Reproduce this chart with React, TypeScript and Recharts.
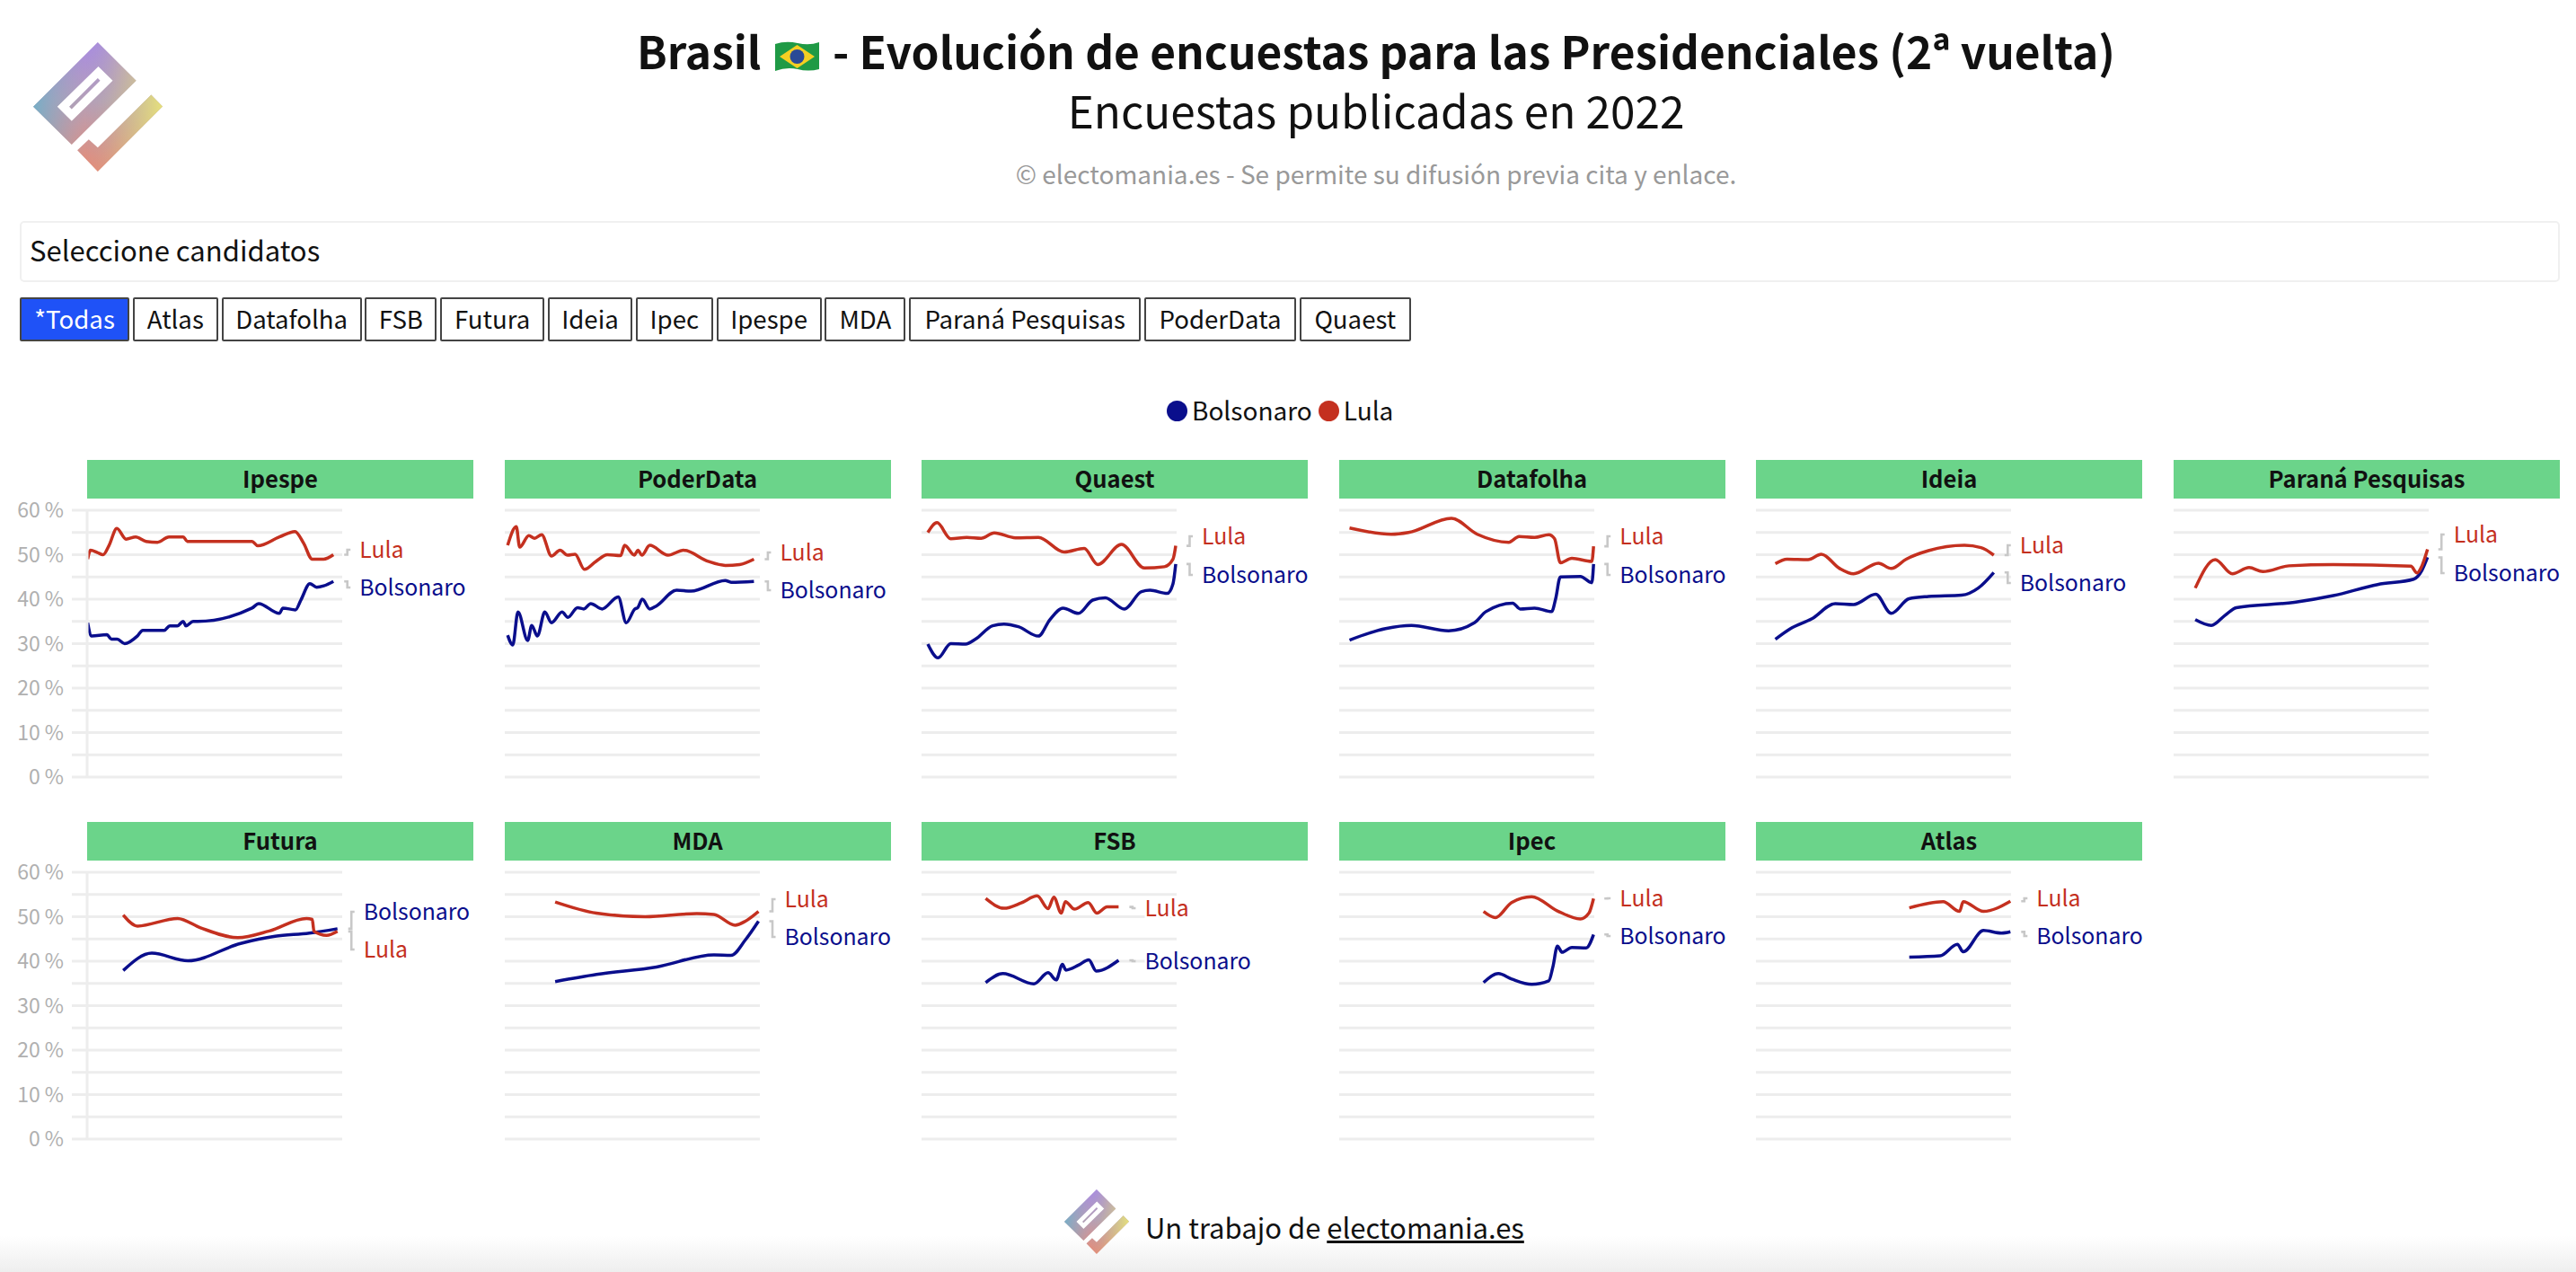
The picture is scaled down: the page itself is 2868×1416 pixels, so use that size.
import { LineChart, Line, XAxis, YAxis, CartesianGrid } from "recharts";

const FONT = '"Noto Sans CJK JP", "Noto Sans", sans-serif';
const LULA_COLOR = "#c4301f";
const BOLSONARO_COLOR = "#0a0e8c";
const GRID_COLOR = "#ededed";

const filterButtons = ["*Todas", "Atlas", "Datafolha", "FSB", "Futura", "Ideia", "Ipec", "Ipespe", "MDA", "Paraná Pesquisas", "PoderData", "Quaest"];
const buttonWidths = [122, 95, 156, 80, 116, 94, 86, 117, 90, 258, 169, 124];
const yTicks = [0, 5, 10, 15, 20, 25, 30, 35, 40, 45, 50, 55, 60];

// x = posición aproximada en la línea de tiempo
const ipespeLulaX = [0.6, 3.8, 11.4, 17.8, 24.2, 33.1, 43.3, 54.1, 65.6, 78.4, 91.1, 107, 111.5, 183.6, 190, 214.2, 231.4, 241, 250.6, 263.3, 274.2];
const ipespeLula = [49, 51, 50.5, 50, 52, 55.9, 53.5, 54, 53, 52.8, 54, 54, 53, 53, 52, 54, 55.2, 52.6, 49, 49, 50];
const ipespeBolsonaroX = [0.6, 5, 22, 27, 33.5, 41.8, 55.8, 62, 86, 92, 100.4, 107, 110, 118, 123, 183.6, 191, 214, 218, 232, 238, 248, 255.5, 263.5, 274.2];
const ipespeBolsonaro = [34.7, 31.7, 32, 31, 31, 30, 31.7, 33, 33, 34, 34, 35, 34, 35, 35, 38, 39, 36.8, 38, 37.6, 39.8, 43.5, 42.7, 43, 44];

const poderLulaX = [3.2, 12.8, 16.6, 26.8, 33.2, 41.1, 52, 61.5, 69.9, 78.2, 88.7, 101.5, 114.3, 129, 133.4, 144.3, 148.2, 152.6, 161.4, 181.8, 199, 226.4, 245.5, 261.5, 277.4];
const poderLula = [52.1, 56.3, 51.7, 54.3, 53.7, 54.5, 49.7, 51, 49.9, 50.1, 46.7, 48.5, 50, 49.8, 52.1, 49.9, 51, 49.9, 52.1, 49.9, 51, 48.5, 47.6, 47.8, 49];
const poderBolsonaroX = [3.2, 8.9, 14.7, 25.5, 30, 36.3, 44.6, 52, 63.8, 70.2, 81, 88, 95.7, 108.4, 126.3, 135.2, 144.9, 148, 153.1, 161.4, 169, 191.3, 207.3, 245.5, 251.9, 277.4];
const poderBolsonaro = [31.9, 29.7, 37.1, 30.7, 34.1, 31.7, 37.1, 34.7, 37.1, 35.9, 38.1, 37.8, 39, 37.8, 40.5, 34.7, 37.8, 38.1, 40, 37.8, 38.5, 42, 41.8, 44.2, 43.8, 44];

const quaestLulaX = [7, 17.2, 32.5, 50.4, 66.3, 81, 104.6, 130.1, 158.8, 181.1, 196.1, 222.6, 248.1, 270.4, 280, 283];
const quaestLula = [55, 57.2, 53.6, 53.9, 53.7, 54.9, 53.8, 53.9, 50.6, 51.4, 47.8, 52.3, 47, 47.3, 49, 52];
const quaestBolsonaroX = [7, 18.4, 32.5, 49.1, 60, 79.1, 91.8, 107.8, 130.1, 142.9, 157.5, 174.7, 190.6, 204.6, 225.7, 244.9, 254.4, 273.6, 280, 283];
const quaestBolsonaro = [29.9, 26.8, 30, 29.9, 31, 34, 34.4, 33.8, 31.7, 35.4, 38, 36.8, 39.8, 40.3, 37.8, 41.7, 42, 41.3, 43.5, 47.9];

const datafolhaLulaX = [11.5, 58, 77.2, 125, 153.7, 188.8, 200.3, 217.5, 233.4, 239.8, 246.2, 259, 281.3, 283.2];
const datafolhaLula = [56, 54.6, 55, 58.2, 54.6, 52.8, 54.1, 53.9, 54.5, 53.6, 48.2, 49.2, 48.5, 51.9];
const datafolhaBolsonaroX = [11.5, 51.7, 80.4, 121.8, 150.5, 163.3, 193.2, 201.5, 217.5, 236.6, 241, 246.2, 268.5, 281.3, 283.2];
const datafolhaBolsonaro = [30.8, 33.4, 34.1, 32.9, 34.7, 37.2, 39.1, 37.8, 38, 37.2, 40.1, 45, 45.1, 43.7, 47.9];

const ideiaLulaX = [21.6, 34.6, 58, 72.8, 93.2, 108.6, 136.4, 150.6, 167.3, 192, 232.1, 250.6, 264.8];
const ideiaLula = [48, 49, 48.9, 50.1, 46.9, 45.7, 48.1, 46.9, 49, 50.9, 52.1, 51.6, 49.9];
const ideiaBolsonaroX = [21.6, 37.7, 62.3, 88.3, 108.6, 133.3, 150.6, 170.4, 192, 229, 247.5, 264.8];
const ideiaBolsonaro = [31, 33.3, 35.6, 39, 38.8, 41.1, 36.8, 40.1, 40.6, 40.9, 42.5, 46];

const paranaLulaX = [24.1, 46.3, 65.4, 84, 99.4, 128.4, 177.8, 264.2, 271, 276.5, 282.7];
const paranaLula = [42.5, 48.9, 45.7, 47.1, 46.2, 47.5, 47.8, 47.4, 45.9, 47.5, 51.2];
const paranaBolsonaroX = [24.1, 42, 57.4, 69.8, 134.6, 177.8, 227.2, 267.3, 276.5, 282.7];
const paranaBolsonaro = [35.4, 34.1, 36.4, 38.1, 39.3, 40.8, 43.3, 44.5, 46.5, 49.4];

const futuraLulaX = [40.2, 56.1, 100.8, 126.3, 167.8, 202.8, 244.3, 250.6, 252.6, 266.6, 278.7];
const futuraLula = [50.4, 47.9, 49.6, 47.5, 45.3, 46.8, 49.6, 49.4, 46.7, 45.8, 46.7];
const futuraBolsonaroX = [40.2, 72, 112.2, 170.9, 209.2, 247.4, 278.7];
const futuraBolsonaro = [37.9, 41.8, 40.1, 44, 45.6, 46.3, 47.3];

const mdaLulaX = [56.1, 102, 156.3, 213.7, 232.8, 256.4, 267.9, 282.5];
const mdaLula = [53.3, 50.8, 50, 50.7, 50.5, 48.1, 49, 51.2];
const mdaBolsonaroX = [56.1, 102, 169, 232.8, 251.9, 267.9, 282.5];
const mdaBolsonaro = [35.4, 37, 38.7, 41.4, 41.3, 44.8, 49];

const fsbLulaX = [71.4, 91.8, 110.9, 128.8, 140.9, 147.3, 155.6, 160.1, 170.3, 185.6, 195.2, 206.6, 219.4];
const fsbLula = [54.1, 51.9, 53.1, 54.7, 51.8, 54.4, 50.8, 53.4, 51.7, 53.2, 50.8, 52.2, 52.2];
const fsbBolsonaroX = [71.4, 90.6, 125, 140.9, 149.9, 156.9, 160.7, 174.7, 186.2, 194.5, 219.4];
const fsbBolsonaro = [35.2, 37.2, 34.9, 37.4, 35.8, 39.3, 38, 39.1, 40.3, 37.8, 40.2];

const ipecLulaX = [160.7, 174, 191.9, 214.3, 243, 268.5, 278, 283.2];
const ipecLula = [51.2, 49.8, 53.2, 54.5, 51.3, 49.5, 50.8, 54.1];
const ipecBolsonaroX = [160.7, 177.3, 192, 214.3, 233.4, 237.9, 243, 248.1, 259, 275, 283.2];
const ipecBolsonaro = [35.2, 37.2, 36, 34.8, 35.6, 38.7, 43.4, 42, 43.1, 43, 46];

const atlasLulaX = [170.7, 208.3, 226.7, 230.7, 253.3, 283.3];
const atlasLula = [52, 53.4, 51.2, 53.4, 51.2, 53.5];
const atlasBolsonaroX = [170.7, 205, 224.3, 230.7, 253.3, 273.3, 283.3];
const atlasBolsonaro = [40.9, 41.2, 43.8, 42.1, 46.9, 46.3, 46.6];

const toPoints = (xs: number[], ys: number[]) => xs.map((x, i) => ({ x, y: ys[i] }));

const PANEL_LEFTS = [97, 561.5, 1026, 1490.5, 1955, 2420];
const ROW_TOPS = [568, 971];

const panels = [
  { name: "Ipespe", col: 0, row: 0, lula: toPoints(ipespeLulaX, ipespeLula), bolsonaro: toPoints(ipespeBolsonaroX, ipespeBolsonaro), lulaLabel: 44, bolsonaroLabel: 86 },
  { name: "PoderData", col: 1, row: 0, lula: toPoints(poderLulaX, poderLula), bolsonaro: toPoints(poderBolsonaroX, poderBolsonaro), lulaLabel: 47, bolsonaroLabel: 89 },
  { name: "Quaest", col: 2, row: 0, lula: toPoints(quaestLulaX, quaestLula), bolsonaro: toPoints(quaestBolsonaroX, quaestBolsonaro), lulaLabel: 29, bolsonaroLabel: 72 },
  { name: "Datafolha", col: 3, row: 0, lula: toPoints(datafolhaLulaX, datafolhaLula), bolsonaro: toPoints(datafolhaBolsonaroX, datafolhaBolsonaro), lulaLabel: 29, bolsonaroLabel: 72 },
  { name: "Ideia", col: 4, row: 0, lula: toPoints(ideiaLulaX, ideiaLula), bolsonaro: toPoints(ideiaBolsonaroX, ideiaBolsonaro), lulaLabel: 39, bolsonaroLabel: 81 },
  { name: "Paraná Pesquisas", col: 5, row: 0, lula: toPoints(paranaLulaX, paranaLula), bolsonaro: toPoints(paranaBolsonaroX, paranaBolsonaro), lulaLabel: 27, bolsonaroLabel: 70 },
  { name: "Futura", col: 0, row: 1, lula: toPoints(futuraLulaX, futuraLula), bolsonaro: toPoints(futuraBolsonaroX, futuraBolsonaro), lulaLabel: 86, bolsonaroLabel: 44 },
  { name: "MDA", col: 1, row: 1, lula: toPoints(mdaLulaX, mdaLula), bolsonaro: toPoints(mdaBolsonaroX, mdaBolsonaro), lulaLabel: 30, bolsonaroLabel: 72 },
  { name: "FSB", col: 2, row: 1, lula: toPoints(fsbLulaX, fsbLula), bolsonaro: toPoints(fsbBolsonaroX, fsbBolsonaro), lulaLabel: 40, bolsonaroLabel: 99 },
  { name: "Ipec", col: 3, row: 1, lula: toPoints(ipecLulaX, ipecLula), bolsonaro: toPoints(ipecBolsonaroX, ipecBolsonaro), lulaLabel: 29, bolsonaroLabel: 71 },
  { name: "Atlas", col: 4, row: 1, lula: toPoints(atlasLulaX, atlasLula), bolsonaro: toPoints(atlasBolsonaroX, atlasBolsonaro), lulaLabel: 29, bolsonaroLabel: 71 },
];

const MARGIN_TOP = 24;

// Etiqueta al final de la línea, con su pequeño conector gris
function endLabel(name: string, color: string, lastIndex: number, labelOffset: number) {
  return (props: any) => {
    const { cx, cy, index } = props;
    if (index !== lastIndex) return <g key={index} />;
    const labelY = MARGIN_TOP + labelOffset;
    return (
      <g key={index}>
        <path
          d={`M${cx + 12},${cy} H${cx + 15.5} V${labelY} H${cx + 19}`}
          fill="none"
          stroke="#c8c8c8"
          strokeWidth={2.6}
        />
        <text
          x={cx + 29}
          y={labelY - 2}
          fill={color}
          fontSize={24.8}
          fontFamily={FONT}
          dominantBaseline="central"
          stroke="#fff"
          strokeWidth={5}
          paintOrder="stroke"
        >
          {name}
        </text>
      </g>
    );
  };
}

function Panel({ panel }: { panel: (typeof panels)[number] }) {
  const left = PANEL_LEFTS[panel.col];
  const top = ROW_TOPS[panel.row];
  const showAxis = panel.col === 0;
  return (
    <>
      <div style={{ position: "absolute", left: left - 97, top: top - MARGIN_TOP }}>
        <LineChart
          width={567}
          height={351}
          margin={{ top: MARGIN_TOP, right: 186, bottom: 30, left: showAxis ? 0 : 97 }}
        >
          <CartesianGrid
            horizontal
            vertical={false}
            stroke={GRID_COLOR}
            strokeWidth={3}
            horizontalValues={yTicks}
          />
          <XAxis type="number" dataKey="x" domain={[0, 284]} hide />
          <YAxis
            type="number"
            dataKey="y"
            domain={[0, 60]}
            ticks={yTicks}
            interval={0}
            hide={!showAxis}
            width={97}
            axisLine={{ stroke: GRID_COLOR, strokeWidth: 3 }}
            tickLine={{ stroke: GRID_COLOR, strokeWidth: 3 }}
            tickSize={17}
            tickMargin={9}
            tick={{ fill: "#b0b0b0", fontSize: 23, fontFamily: FONT }}
            tickFormatter={(v: number) => (v % 10 === 0 ? `${v} %` : "")}
          />
          <Line
            data={panel.bolsonaro}
            dataKey="y"
            type="monotone"
            stroke={BOLSONARO_COLOR}
            strokeWidth={3.5}
            dot={endLabel("Bolsonaro", BOLSONARO_COLOR, panel.bolsonaro.length - 1, panel.bolsonaroLabel)}
            activeDot={false}
            isAnimationActive={false}
          />
          <Line
            data={panel.lula}
            dataKey="y"
            type="monotone"
            stroke={LULA_COLOR}
            strokeWidth={3.5}
            dot={endLabel("Lula", LULA_COLOR, panel.lula.length - 1, panel.lulaLabel)}
            activeDot={false}
            isAnimationActive={false}
          />
        </LineChart>
      </div>
      <div
        style={{
          position: "absolute",
          left,
          top: top - 56,
          width: 430,
          height: 43,
          lineHeight: "39px",
          background: "#6bd48a",
          color: "#111",
          fontWeight: 700,
          fontSize: 25.6,
          textAlign: "center",
        }}
      >
        {panel.name}
      </div>
    </>
  );
}

// Logo de electomania dibujado sobre una caja de 431x431
function Logo({ x, y, size, id }: { x: number; y: number; size: number; id: string }) {
  const main = "M215,0 L343,128 L128,341 L0,215 Z M217,81 L80,215 L128,263 L265,128 Z";
  const slit = "M215,120 L223,128 L128,223 L120,215 Z";
  const tail = "M393,175 L431,214 L215,431 L147,360 L185,324 L215,351 Z";
  return (
    <svg style={{ position: "absolute", left: x, top: y }} width={size} height={size} viewBox="0 0 431 431">
      <defs>
        <linearGradient id={`${id}-v`} x1="0" y1="0" x2="0" y2="1">
          <stop offset="0%" stopColor="#a98be2" />
          <stop offset="45%" stopColor="#b5a0b8" />
          <stop offset="100%" stopColor="#e88c74" />
        </linearGradient>
        <linearGradient id={`${id}-h`} x1="0" y1="0" x2="1" y2="0">
          <stop offset="0%" stopColor="#6fb0c8" stopOpacity={0.9} />
          <stop offset="40%" stopColor="#9aa0c0" stopOpacity={0} />
          <stop offset="65%" stopColor="#d8d080" stopOpacity={0.3} />
          <stop offset="100%" stopColor="#e6e07c" stopOpacity={1} />
        </linearGradient>
        <clipPath id={`${id}-clip`}>
          <path d={main} clipRule="evenodd" />
          <path d={slit} />
          <path d={tail} />
        </clipPath>
      </defs>
      <g clipPath={`url(#${id}-clip)`}>
        <rect width={431} height={431} fill={`url(#${id}-v)`} />
        <rect width={431} height={431} fill={`url(#${id}-h)`} />
      </g>
    </svg>
  );
}

function BrazilFlag() {
  return (
    <svg
      role="img"
      aria-label="Bandera de Brasil"
      width={49}
      height={34}
      viewBox="0 0 49 34"
      style={{ display: "inline-block", verticalAlign: "-3px", margin: "0 4px" }}
    >
      <path d="M0,3 Q12,-1 25,2 T49,1 V31 Q37,34 25,31 T0,33 Z" fill="#1f9a45" />
      <path d="M24.5,4 L44,17 L24.5,30 L5,17 Z" fill="#f4cf22" />
      <circle cx={24.5} cy={17} r={8} fill="#2a4a96" />
    </svg>
  );
}

function centered(top: number, height: number, style: any) {
  return {
    position: "absolute" as const,
    left: 0,
    width: 3064,
    top,
    height,
    lineHeight: `${height}px`,
    textAlign: "center" as const,
    whiteSpace: "nowrap" as const,
    ...style,
  };
}

export default function App() {
  return (
    <div
      style={{
        position: "absolute",
        left: 0,
        top: 0,
        width: 2868,
        height: 1416,
        overflow: "hidden",
        background: "#fff",
        fontFamily: FONT,
        color: "#111",
      }}
    >
      <Logo x={37} y={47} size={144} id="logo-top" />
      <div style={centered(20, 70, { fontWeight: 700, fontSize: 49.6 })}>
        Brasil <BrazilFlag /> - Evolución de encuestas para las Presidenciales (2ª vuelta)
      </div>
      <div style={centered(87, 70, { fontSize: 49.5 })}>Encuestas publicadas en 2022</div>
      <div style={centered(173, 40, { fontSize: 28, color: "#999" })}>
        © electomania.es - Se permite su difusión previa cita y enlace.
      </div>

      <div
        style={{
          position: "absolute",
          left: 22,
          top: 246,
          width: 2828,
          height: 68,
          boxSizing: "border-box",
          border: "2px solid #f0f0f0",
          borderRadius: 5,
          paddingLeft: 9,
          lineHeight: "60px",
          fontSize: 31,
        }}
      >
        Seleccione candidatos
      </div>

      <div style={{ position: "absolute", left: 22, top: 331, display: "flex", gap: 3.8 }}>
        {filterButtons.map((label, i) => (
          <div
            key={label}
            style={{
              width: buttonWidths[i],
              height: 49,
              boxSizing: "border-box",
              border: "2px solid #444",
              background: i === 0 ? "#1f52f7" : "#fff",
              color: i === 0 ? "#fff" : "#111",
              fontSize: 27.6,
              lineHeight: "43px",
              textAlign: "center",
              whiteSpace: "nowrap",
              borderRadius: 2,
            }}
          >
            {label}
          </div>
        ))}
      </div>

      <div style={{ position: "absolute", left: 1299, top: 434, height: 44, display: "flex", alignItems: "center", fontSize: 28 }}>
        <span style={{ width: 23, height: 23, borderRadius: "50%", background: BOLSONARO_COLOR, marginRight: 5, marginTop: 3 }} />
        <span style={{ marginRight: 7 }}>Bolsonaro</span>
        <span style={{ width: 23, height: 23, borderRadius: "50%", background: LULA_COLOR, marginRight: 5, marginTop: 3 }} />
        <span>Lula</span>
      </div>

      {panels.map((p) => (
        <Panel key={p.name} panel={p} />
      ))}

      <div
        style={{
          position: "absolute",
          left: 0,
          top: 1376,
          width: 2868,
          height: 40,
          background: "linear-gradient(to bottom, #ffffff, #eeeeee)",
        }}
      />
      <Logo x={1185} y={1324} size={72} id="logo-bottom" />
      <div style={{ position: "absolute", left: 1275, top: 1341, lineHeight: "50px", fontSize: 31, whiteSpace: "nowrap" }}>
        Un trabajo de <span style={{ textDecoration: "underline" }}>electomania.es</span>
      </div>
    </div>
  );
}
